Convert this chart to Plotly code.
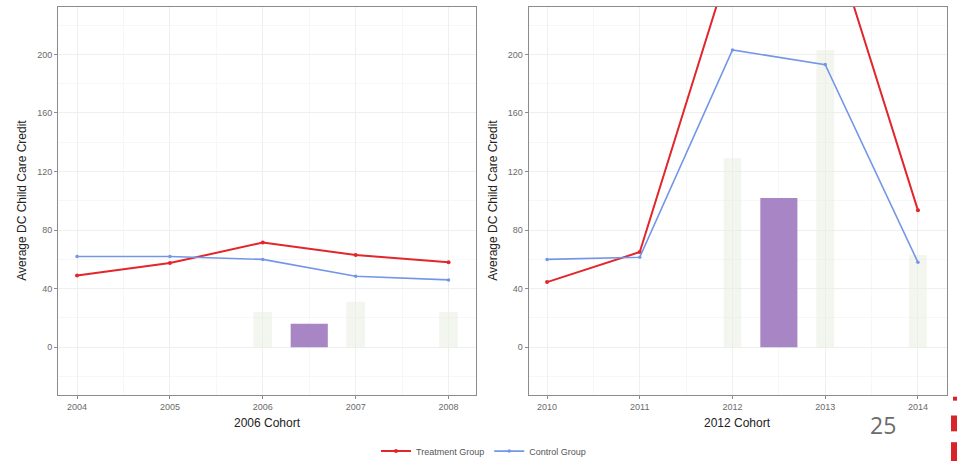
import plotly.graph_objects as go

# ---- data ----
years_2006 = [2004, 2005, 2006, 2007, 2008]
treat_2006 = [49, 57.5, 71.5, 63, 58]
control_2006 = [62, 62, 60, 48.5, 46]

years_2012 = [2010, 2011, 2012, 2013, 2014]
treat_2012 = [44.5, 65, 268, 295, 93.5]
control_2012 = [60, 61.5, 203, 193, 58]

diff_x_2006 = [2006.5]
diff_y_2006 = [16]
diff_x_2012 = [2012.5]
diff_y_2012 = [102]

# faint ghost bars visible in the slide
ghost_x_2006 = [2006, 2007, 2008]
ghost_y_2006 = [24, 31, 24]
ghost_x_2012 = [2012, 2013, 2014]
ghost_y_2012 = [129, 203, 63]

y_ticks = [0, 40, 80, 120, 160, 200]

W, H = 957, 466
RED = "#E2262B"
BLUE = "#7397E6"
PURPLE = "#A886C6"
GHOST = "rgba(234,236,226,0.55)"
FONT = "Liberation Sans, Arial, sans-serif"


def px_x(p):
    return min(1.0, max(0.0, p / W))


def px_y(p):
    return min(1.0, max(0.0, 1 - p / H))


fig = go.Figure()

# left panel
fig.add_trace(go.Bar(x=ghost_x_2006, y=ghost_y_2006, width=0.2, marker=dict(color=GHOST, line=dict(width=0)),
                     showlegend=False, hoverinfo="skip", xaxis="x", yaxis="y"))
fig.add_trace(go.Bar(x=diff_x_2006, y=diff_y_2006, width=0.4, marker=dict(color=PURPLE, line=dict(width=0)),
                     showlegend=False, xaxis="x", yaxis="y"))
fig.add_trace(go.Scatter(x=years_2006, y=treat_2006, mode="lines+markers", name="Treatment Group",
                         line=dict(color=RED, width=2), marker=dict(size=4, color=RED),
                         xaxis="x", yaxis="y", legendgroup="t"))
fig.add_trace(go.Scatter(x=years_2006, y=control_2006, mode="lines+markers", name="Control Group",
                         line=dict(color=BLUE, width=1.6), marker=dict(size=3.5, color=BLUE),
                         xaxis="x", yaxis="y", legendgroup="c"))

# right panel
fig.add_trace(go.Bar(x=ghost_x_2012, y=ghost_y_2012, width=0.19, marker=dict(color=GHOST, line=dict(width=0)),
                     showlegend=False, hoverinfo="skip", xaxis="x2", yaxis="y2"))
fig.add_trace(go.Bar(x=diff_x_2012, y=diff_y_2012, width=0.4, marker=dict(color=PURPLE, line=dict(width=0)),
                     showlegend=False, xaxis="x2", yaxis="y2"))
fig.add_trace(go.Scatter(x=years_2012, y=treat_2012, mode="lines+markers", name="Treatment Group",
                         line=dict(color=RED, width=2), marker=dict(size=4, color=RED),
                         xaxis="x2", yaxis="y2", legendgroup="t", showlegend=False))
fig.add_trace(go.Scatter(x=years_2012, y=control_2012, mode="lines+markers", name="Control Group",
                         line=dict(color=BLUE, width=1.6), marker=dict(size=3.5, color=BLUE),
                         xaxis="x2", yaxis="y2", legendgroup="c", showlegend=False))

ydom = [px_y(399), px_y(7)]

common_x = dict(showline=True, mirror=True, linecolor="#8c8c8c", linewidth=1,
                ticks="outside", ticklen=3, tickcolor="#8c8c8c",
                showgrid=True, gridcolor="#efefef", gridwidth=1,
                minor=dict(showgrid=True, gridcolor="#f7f7f7", dtick=0.5),
                tickfont=dict(size=9, color="#6a6a6a", family=FONT),
                zeroline=False, dtick=1, tickformat="d")
common_y = dict(showline=True, mirror=True, linecolor="#8c8c8c", linewidth=1,
                ticks="outside", ticklen=3, tickcolor="#8c8c8c",
                showgrid=True, gridcolor="#efefef", gridwidth=1,
                minor=dict(showgrid=True, gridcolor="#f7f7f7", dtick=20),
                tickfont=dict(size=9, color="#6a6a6a", family=FONT),
                zeroline=False, tickvals=y_ticks, range=[-32.4, 232.4])

fig.update_layout(
    width=W, height=H, autosize=False,
    margin=dict(l=0, r=0, t=0, b=0),
    paper_bgcolor="white", plot_bgcolor="white",
    barmode="overlay",
    font=dict(family=FONT),
    xaxis=dict(domain=[px_x(58), px_x(475.5)], range=[2003.795, 2008.29], anchor="y", **common_x),
    yaxis=dict(domain=ydom, anchor="x", **common_y),
    xaxis2=dict(domain=[px_x(528.5), px_x(946.7)], range=[2009.8, 2014.31], anchor="y2", **common_x),
    yaxis2=dict(domain=ydom, anchor="x2", **common_y),
    legend=dict(orientation="h", x=px_x(376), y=px_y(456), xanchor="left", yanchor="middle",
                font=dict(size=9, color="#555555", family=FONT), bgcolor="rgba(0,0,0,0)",
                itemwidth=30, tracegroupgap=0),
    showlegend=True,
)

annotations = [
    dict(text="Average DC Child Care Credit", x=px_x(22), y=px_y(203), textangle=-90,
         font=dict(size=12, color="#222222", family=FONT)),
    dict(text="Average DC Child Care Credit", x=px_x(493), y=px_y(203), textangle=-90,
         font=dict(size=12, color="#222222", family=FONT)),
    dict(text="2006 Cohort", x=px_x(267), y=px_y(428),
         font=dict(size=12, color="#222222", family=FONT)),
    dict(text="2012 Cohort", x=px_x(737), y=px_y(428),
         font=dict(size=12, color="#222222", family=FONT)),
    dict(text="25", x=px_x(883), y=px_y(430),
         font=dict(size=23, color="#6b6b6b", family="Open Sans, sans-serif")),
]
for a in annotations:
    a.update(xref="paper", yref="paper", showarrow=False, xanchor="center", yanchor="middle")
fig.update_layout(annotations=annotations)

shapes = [
    dict(type="rect", x0=px_x(951), x1=px_x(957), y0=px_y(436), y1=px_y(420)),
    dict(type="rect", x0=px_x(951), x1=px_x(957), y0=px_y(466), y1=px_y(447)),
    dict(type="rect", x0=px_x(953), x1=px_x(957), y0=px_y(405), y1=px_y(401)),
]
for s in shapes:
    s.update(xref="paper", yref="paper", fillcolor="#D9232B", line=dict(width=0), layer="above")
fig.update_layout(shapes=shapes)

post = (
    "var de=document.documentElement, b=document.body;"
    "de.style.margin='0';de.style.padding='0';de.style.overflow='hidden';de.style.height='466px';"
    "b.style.margin='0';b.style.padding='0';b.style.overflow='hidden';b.style.height='466px';"
)

fig.write_html(
    "out.html",
    config={"displayModeBar": False},
    post_script=post,
)
